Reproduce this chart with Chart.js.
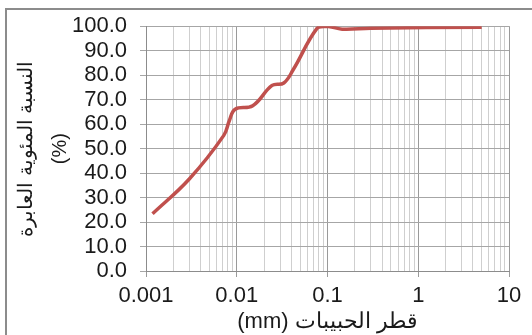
<!DOCTYPE html>
<html>
<head>
<meta charset="utf-8">
<script src="https://cdn.jsdelivr.net/npm/chart.js@4.4.1/dist/chart.umd.min.js"></script>
<style>
  html, body { margin: 0; padding: 0; background: #fff; }
  #wrap { position: relative; width: 532px; height: 335px; overflow: hidden; }
  #frame { position: absolute; left: 5px; top: 8px; width: 600px; height: 400px;
           border-left: 2px solid #8c8c8c; border-top: 2px solid #8c8c8c; }
  #chart { position: absolute; left: 0; top: 0; }
</style>
</head>
<body>
<div id="wrap">
  <div id="frame"></div>
  <canvas id="chart" width="532" height="335"></canvas>
</div>
<script>
// grain size (mm) and percent passing
const diameters = [0.00118, 0.003, 0.0072, 0.0083, 0.0096, 0.015, 0.0245, 0.033, 0.042, 0.077, 0.098, 0.145, 0.3, 5];
const passing   = [23.4, 37.6, 55.4, 61.5, 66.1, 67.5, 75.8, 76.8, 82.3, 99.2, 100, 98.8, 99.2, 99.6];

const xDecades = [0.001, 0.01, 0.1, 1, 10];
const yTicks = [0, 10, 20, 30, 40, 50, 60, 70, 80, 90, 100];

const xTitle = '(mm) قطر الحبيبات';
const yTitle = ['النسبة المئوية العابرة', '(%)'];

const points = diameters.map((d, i) => ({ x: d, y: passing[i] }));

// 1..9 per decade for the log grid
const xGridValues = [];
xDecades.forEach((d, i) => {
    if (i === xDecades.length - 1) { xGridValues.push(d); return; }
    for (let k = 1; k <= 9; k++) xGridValues.push(+(d * k).toPrecision(6));
});

function isDecade(v) {
    const e = Math.log10(v);
    return Math.abs(e - Math.round(e)) < 1e-9;
}

const font = { family: "'Liberation Sans', Arial, sans-serif", size: 22 };

const ctx = document.getElementById('chart').getContext('2d');
const chart = new Chart(ctx, {
    type: 'line',
    data: {
        datasets: [{
            data: points,
            borderColor: '#C0504D',
            borderWidth: 3.5,
            pointRadius: 0,
            fill: false,
            tension: 0.4
        }]
    },
    options: {
        responsive: false,
        animation: false,
        layout: { padding: { top: 21.5, right: 23, left: 0, bottom: 0 } },
        plugins: { legend: { display: false }, tooltip: { enabled: false } },
        scales: {
            x: {
                type: 'logarithmic',
                min: xDecades[0],
                max: xDecades[xDecades.length - 1],
                afterFit: (s) => { s.height = 64; },
                afterBuildTicks: (s) => { s.ticks = xGridValues.map(v => ({ value: v, major: isDecade(v) })); },
                border: { color: '#8c8c8c', width: 1 },
                grid: {
                    color: (c) => isDecade(c.tick.value) ? '#9a9a9a' : '#cfcfcf',
                    tickColor: (c) => isDecade(c.tick.value) ? '#9a9a9a' : 'rgba(0,0,0,0)',
                    tickLength: 6,
                    lineWidth: 1
                },
                ticks: {
                    autoSkip: false,
                    maxRotation: 0,
                    padding: 6,
                    color: '#1a1a1a',
                    font: font,
                    callback: (v) => isDecade(v) ? String(v) : ''
                },
                title: {
                    display: true,
                    text: xTitle,
                    color: '#1a1a1a',
                    font: font,
                    padding: { top: 0, bottom: 0 }
                }
            },
            y: {
                min: 0,
                max: 100,
                afterFit: (s) => { s.width = 146; },
                afterBuildTicks: (s) => { s.ticks = yTicks.map(v => ({ value: v })); },
                border: { color: '#8c8c8c', width: 1 },
                grid: { color: '#a6a6a6', tickColor: '#a6a6a6', tickLength: 6, lineWidth: 1 },
                ticks: {
                    autoSkip: false,
                    padding: 13,
                    color: '#1a1a1a',
                    font: font,
                    callback: (v) => v.toFixed(1)
                },
                title: {
                    display: true,
                    text: yTitle,
                    color: '#1a1a1a',
                    font: { family: font.family, size: 20, lineHeight: 1.7 },
                    padding: { top: 9, bottom: 0 }
                }
            }
        }
    }
});
</script>
</body>
</html>
